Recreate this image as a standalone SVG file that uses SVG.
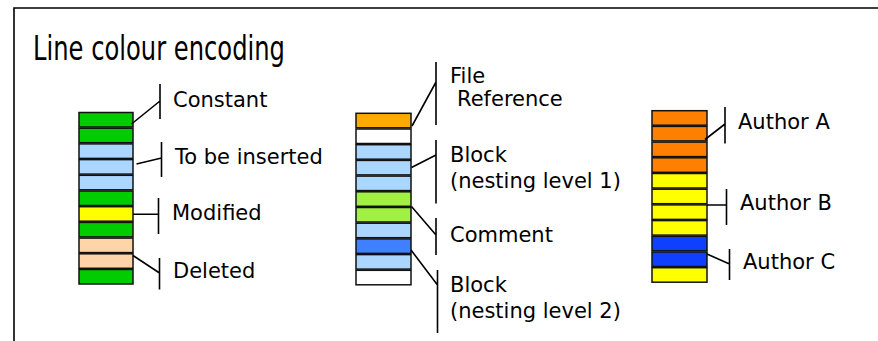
<svg xmlns="http://www.w3.org/2000/svg" width="878" height="341" viewBox="0 0 878 341">
<style>
text{font-family:"DejaVu Sans","Verdana",sans-serif;fill:#000;}
.lbl{font-size:21px;}
.title{font-size:33px;}
.cell{stroke:#111;stroke-width:1.5;}
.ln{stroke:#000;stroke-width:1.6;fill:none;}
.g{fill:#00cc00}.lb{fill:#aad6ff}.y{fill:#ffff00}.pc{fill:#ffd4a8}
.or{fill:#ffaa00}.w{fill:#ffffff}.lm{fill:#a2f044}.db{fill:#4080ff}
.o2{fill:#ff8000}.b2{fill:#1040ff}
</style>
<rect x="0" y="0" width="878" height="341" fill="#fff"/>
<path class="ln" d="M14,341 V8 H878" stroke-width="2"/>
<text class="title" x="33" y="60" textLength="252" lengthAdjust="spacingAndGlyphs">Line colour encoding</text>

<g id="col-left">
<rect class="cell g" x="79" y="112.5" width="54" height="14.5"/>
<rect class="cell g" x="79" y="128.2" width="54" height="14.5"/>
<rect class="cell lb" x="79" y="143.9" width="54" height="14.5"/>
<rect class="cell lb" x="79" y="159.6" width="54" height="14.5"/>
<rect class="cell lb" x="79" y="175.3" width="54" height="14.5"/>
<rect class="cell g" x="79" y="191" width="54" height="14.5"/>
<rect class="cell y" x="79" y="206.7" width="54" height="14.5"/>
<rect class="cell g" x="79" y="222.4" width="54" height="14.5"/>
<rect class="cell pc" x="79" y="238.1" width="54" height="14.5"/>
<rect class="cell pc" x="79" y="253.8" width="54" height="14.5"/>
<rect class="cell g" x="79" y="269.5" width="54" height="14.5"/>
</g>

<g id="col-mid">
<rect class="cell or" x="356" y="113.3" width="55" height="14.5"/>
<rect class="cell w" x="356" y="129" width="55" height="14.5"/>
<rect class="cell lb" x="356" y="144.7" width="55" height="14.5"/>
<rect class="cell lb" x="356" y="160.4" width="55" height="14.5"/>
<rect class="cell lb" x="356" y="176.1" width="55" height="14.5"/>
<rect class="cell lm" x="356" y="191.8" width="55" height="14.5"/>
<rect class="cell lm" x="356" y="207.5" width="55" height="14.5"/>
<rect class="cell lb" x="356" y="223.2" width="55" height="14.5"/>
<rect class="cell db" x="356" y="238.9" width="55" height="14.5"/>
<rect class="cell lb" x="356" y="254.6" width="55" height="14.5"/>
<rect class="cell w" x="356" y="270.3" width="55" height="14.5"/>
</g>

<g id="col-right">
<rect class="cell o2" x="652" y="110.7" width="55" height="14.5"/>
<rect class="cell o2" x="652" y="126.4" width="55" height="14.5"/>
<rect class="cell o2" x="652" y="142.1" width="55" height="14.5"/>
<rect class="cell o2" x="652" y="157.8" width="55" height="14.5"/>
<rect class="cell y" x="652" y="173.5" width="55" height="14.5"/>
<rect class="cell y" x="652" y="189.2" width="55" height="14.5"/>
<rect class="cell y" x="652" y="204.9" width="55" height="14.5"/>
<rect class="cell y" x="652" y="220.6" width="55" height="14.5"/>
<rect class="cell b2" x="652" y="236.3" width="55" height="14.5"/>
<rect class="cell b2" x="652" y="252" width="55" height="14.5"/>
<rect class="cell y" x="652" y="267.7" width="55" height="14.5"/>
</g>

<g id="connectors">
<path class="ln" d="M160,84 V119 M131.5,124 L160,101"/>
<path class="ln" d="M161.5,142 V177 M136.5,164 L161.5,158"/>
<path class="ln" d="M158.5,198 V234 M133,214.3 H158.5"/>
<path class="ln" d="M159.5,258 V289.5 M133,255.5 L159.5,273"/>
<path class="ln" d="M436,62 V125 M412,126 L436,82"/>
<path class="ln" d="M436,140 V203.5 M411.5,167.5 L436,155"/>
<path class="ln" d="M436,218 V255 M411.5,206.5 L436,235"/>
<path class="ln" d="M437.5,270 V333 M411,250 L437.5,285"/>
<path class="ln" d="M725,107 V143.5 M705,139.5 L725,124"/>
<path class="ln" d="M726.5,189 V225 M707,205 H726.5"/>
<path class="ln" d="M729.5,249 V280 M707,254 L729.5,264"/>
</g>

<g id="labels">
<text class="lbl" x="173" y="107">Constant</text>
<text class="lbl" x="175" y="163.5">To be inserted</text>
<text class="lbl" x="172" y="219.5">Modified</text>
<text class="lbl" x="173" y="277.5">Deleted</text>
<text class="lbl" x="450" y="82.5">File</text>
<text class="lbl" x="457" y="106">Reference</text>
<text class="lbl" x="450" y="161.5">Block</text>
<text class="lbl" x="450" y="187.5">(nesting level 1)</text>
<text class="lbl" x="450" y="241.5">Comment</text>
<text class="lbl" x="450" y="291.5">Block</text>
<text class="lbl" x="450" y="317.5">(nesting level 2)</text>
<text class="lbl" x="738" y="128.5">Author A</text>
<text class="lbl" x="740" y="210">Author B</text>
<text class="lbl" x="743" y="268.5">Author C</text>
</g>
</svg>
